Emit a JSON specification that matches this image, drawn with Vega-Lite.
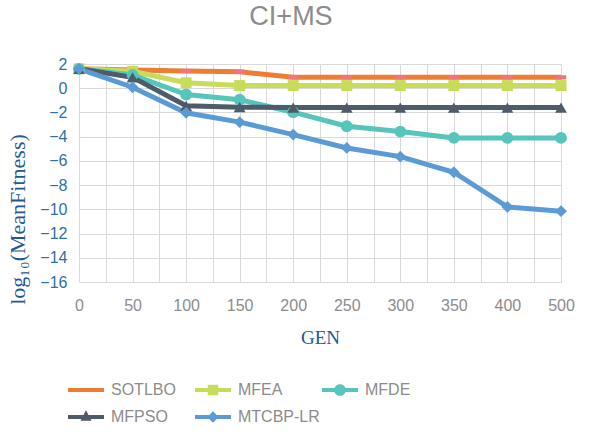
{
  "$schema": "https://vega.github.io/schema/vega-lite/v6.json",
  "width": 482,
  "height": 218,
  "autosize": {"type": "none"},
  "padding": {"left": 79, "top": 64, "right": 39, "bottom": 151},
  "background": "white",
  "title": {"text": "CI+MS", "fontSize": 27, "font": "Liberation Sans", "fontWeight": "normal", "color": "#8c8c8c", "anchor": "middle", "dx": -29, "offset": 4, "baseline": "alphabetic"},
  "data": {"values": [
    {"GEN": 0, "series": "SOTLBO", "value": 1.6},
    {"GEN": 50, "series": "SOTLBO", "value": 1.5},
    {"GEN": 100, "series": "SOTLBO", "value": 1.42},
    {"GEN": 150, "series": "SOTLBO", "value": 1.36},
    {"GEN": 200, "series": "SOTLBO", "value": 0.9},
    {"GEN": 250, "series": "SOTLBO", "value": 0.9},
    {"GEN": 300, "series": "SOTLBO", "value": 0.9},
    {"GEN": 350, "series": "SOTLBO", "value": 0.9},
    {"GEN": 400, "series": "SOTLBO", "value": 0.9},
    {"GEN": 500, "series": "SOTLBO", "value": 0.9},
    {"GEN": 0, "series": "MFEA", "value": 1.6},
    {"GEN": 50, "series": "MFEA", "value": 1.4},
    {"GEN": 100, "series": "MFEA", "value": 0.45},
    {"GEN": 150, "series": "MFEA", "value": 0.22},
    {"GEN": 200, "series": "MFEA", "value": 0.22},
    {"GEN": 250, "series": "MFEA", "value": 0.22},
    {"GEN": 300, "series": "MFEA", "value": 0.22},
    {"GEN": 350, "series": "MFEA", "value": 0.22},
    {"GEN": 400, "series": "MFEA", "value": 0.22},
    {"GEN": 500, "series": "MFEA", "value": 0.22},
    {"GEN": 0, "series": "MFDE", "value": 1.6},
    {"GEN": 50, "series": "MFDE", "value": 1.1},
    {"GEN": 100, "series": "MFDE", "value": -0.52},
    {"GEN": 150, "series": "MFDE", "value": -0.95},
    {"GEN": 200, "series": "MFDE", "value": -1.98},
    {"GEN": 250, "series": "MFDE", "value": -3.14},
    {"GEN": 300, "series": "MFDE", "value": -3.58},
    {"GEN": 350, "series": "MFDE", "value": -4.1},
    {"GEN": 400, "series": "MFDE", "value": -4.1},
    {"GEN": 500, "series": "MFDE", "value": -4.1},
    {"GEN": 0, "series": "MFPSO", "value": 1.6},
    {"GEN": 50, "series": "MFPSO", "value": 0.9},
    {"GEN": 100, "series": "MFPSO", "value": -1.45},
    {"GEN": 150, "series": "MFPSO", "value": -1.57},
    {"GEN": 200, "series": "MFPSO", "value": -1.6},
    {"GEN": 250, "series": "MFPSO", "value": -1.6},
    {"GEN": 300, "series": "MFPSO", "value": -1.6},
    {"GEN": 350, "series": "MFPSO", "value": -1.6},
    {"GEN": 400, "series": "MFPSO", "value": -1.6},
    {"GEN": 500, "series": "MFPSO", "value": -1.6},
    {"GEN": 0, "series": "MTCBP-LR", "value": 1.6},
    {"GEN": 50, "series": "MTCBP-LR", "value": 0.08},
    {"GEN": 100, "series": "MTCBP-LR", "value": -2.03},
    {"GEN": 150, "series": "MTCBP-LR", "value": -2.8},
    {"GEN": 200, "series": "MTCBP-LR", "value": -3.83},
    {"GEN": 250, "series": "MTCBP-LR", "value": -4.93},
    {"GEN": 300, "series": "MTCBP-LR", "value": -5.65},
    {"GEN": 350, "series": "MTCBP-LR", "value": -6.94},
    {"GEN": 400, "series": "MTCBP-LR", "value": -9.8},
    {"GEN": 500, "series": "MTCBP-LR", "value": -10.15}
  ]},
  "encoding": {
    "x": {
      "field": "GEN", "type": "quantitative",
      "scale": {"domain": [0, 400, 500], "range": [0, 428.4, 482], "nice": false, "zero": false},
      "axis": {
        "title": "GEN", "titleFont": "Liberation Serif", "titleFontSize": 19, "titleFontWeight": "normal", "titleColor": "#1f5a94",
        "titleBaseline": "alphabetic", "titleY": 61, "titleX": 241,
        "values": [0, 25, 50, 75, 100, 125, 150, 175, 200, 225, 250, 275, 300, 325, 350, 375, 400, 450, 500],
        "labelExpr": "datum.value % 50 == 0 && datum.value != 450 ? datum.label : ''",
        "labelFont": "Liberation Sans", "labelFontSize": 16, "labelColor": "#8c8c8c", "labelPadding": 15,
        "labelOverlap": false, "labelFlush": false,
        "ticks": false, "domain": false, "grid": true, "gridColor": "#d9d9d9", "gridWidth": 1
      }
    },
    "y": {
      "field": "value", "type": "quantitative",
      "scale": {"domain": [-16, 2], "nice": false, "zero": false},
      "axis": {
        "title": "log₁₀(MeanFitness)", "titleFont": "Liberation Serif, DejaVu Serif", "titleFontSize": 22, "titleFontWeight": "normal", "titleColor": "#1f5a94",
        "titleBaseline": "alphabetic", "titleX": -55, "titleY": 155, "titleAngle": -90, "titleAlign": "center",
        "values": [-16, -14, -12, -10, -8, -6, -4, -2, 0, 2],
        "labelFont": "Liberation Sans", "labelFontSize": 16, "labelColor": "#2f6fa8", "labelPadding": 12,
        "ticks": false, "domain": false, "grid": true, "gridColor": "#d9d9d9", "gridWidth": 1
      }
    }
  },
  "layer": [
    {
      "mark": {"type": "line", "strokeWidth": 5, "interpolate": "linear"},
      "encoding": {
        "color": {
          "field": "series", "type": "nominal", "sort": null,
          "scale": {"domain": ["SOTLBO", "MFEA", "MFDE", "MFPSO", "MTCBP-LR"], "range": ["#ed7d31", "#c8dc5a", "#56c5bb", "#4e5b6b", "#5b9bd5"]},
          "legend": {
            "orient": "none", "legendX": -11, "legendY": 317, "columns": 3, "direction": "horizontal", "title": null,
            "labelFont": "Liberation Sans", "labelFontSize": 16, "labelColor": "#8c8c8c",
            "symbolSize": 324, "symbolStrokeWidth": 0, "labelOffset": 25, "columnPadding": 2, "rowPadding": 10, "gridAlign": "all",
            "encode": {"symbols": {"update": {
              "shape": {"signal": "datum.value == 'MFEA' ? 'M-1,-0.22H3V0.22H-1Z M0.42,-0.58H1.58V0.58H0.42Z' : datum.value == 'MFDE' ? 'M-1,-0.22H3V0.22H-1Z M0.35,0A0.65,0.65 0 1,1 1.65,0A0.65,0.65 0 1,1 0.35,0Z' : datum.value == 'MFPSO' ? 'M-1,-0.22H3V0.22H-1Z M1,-0.75L1.62,0.42H0.38Z' : datum.value == 'MTCBP-LR' ? 'M-1,-0.22H3V0.22H-1Z M1,-0.65L1.62,0L1,0.65L0.38,0Z' : 'M-1,-0.22H3V0.22H-1Z'"},
              "fill": {"scale": "color", "field": "value"},
              "strokeWidth": {"value": 0},
              "opacity": {"value": 1}
            }}}
          }
        }
      }
    },
    {
      "transform": [{"filter": "datum.series == 'SOTLBO'"}],
      "mark": {"type": "point", "filled": true, "opacity": 1, "strokeWidth": 0, "size": 110, "shape": "M-1,-0.4H1V0.4H-1Z", "color": "#f4737e"}
    },
    {
      "transform": [{"filter": "datum.series == 'MFEA'"}],
      "mark": {"type": "point", "filled": true, "opacity": 1, "strokeWidth": 0, "size": 120, "shape": "square", "color": "#c8dc5a"}
    },
    {
      "transform": [{"filter": "datum.series == 'MFDE'"}],
      "mark": {"type": "point", "filled": true, "opacity": 1, "strokeWidth": 0, "size": 140, "shape": "circle", "color": "#56c5bb"}
    },
    {
      "transform": [{"filter": "datum.series == 'MFPSO'"}],
      "mark": {"type": "point", "filled": true, "opacity": 1, "strokeWidth": 0, "size": 140, "shape": "triangle-up", "color": "#4e5b6b"}
    },
    {
      "transform": [{"filter": "datum.series == 'MTCBP-LR'"}],
      "mark": {"type": "point", "filled": true, "opacity": 1, "strokeWidth": 0, "size": 140, "shape": "diamond", "color": "#5b9bd5"}
    }
  ],
  "config": {"view": {"stroke": null}}
}
